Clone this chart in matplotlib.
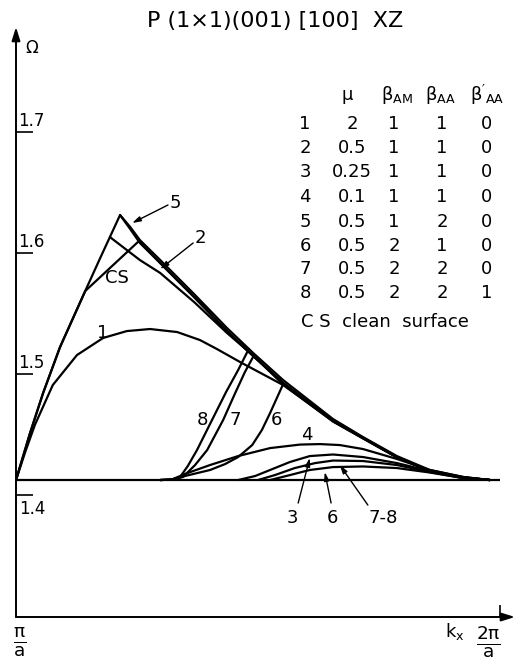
import matplotlib
matplotlib.use('Agg')
import matplotlib.pyplot as plt

plt.rcParams['font.family'] = ['DejaVu Sans']
plt.rcParams['mathtext.default'] = 'regular'

# kx in units of pi/a, Omega
base_k = [1.0, 2.0]
base_w = [1.4124, 1.4124]

# steep rising part shared by curves 5, CS, 2
rise_k = [1.000, 1.029, 1.056, 1.091, 1.143, 1.174, 1.194, 1.215]
rise_w = [1.4124, 1.4512, 1.4843, 1.5223, 1.5686, 1.5959, 1.6132, 1.6314]

# curve 5, outer line from the peak
c5_k = [1.236, 1.256, 1.298, 1.368, 1.436, 1.490, 1.552, 1.655, 1.717, 1.787, 1.855, 1.924, 1.979]
c5_w = [1.6215, 1.6107, 1.5942, 1.5661, 1.5380, 1.5174, 1.4950, 1.4628, 1.4479, 1.4322, 1.4207, 1.4149, 1.4124]

# inner line from the peak
inner_k = [1.215, 1.236, 1.256, 1.298, 1.368, 1.436, 1.490, 1.552, 1.655, 1.717, 1.787, 1.855, 1.924, 1.979]
inner_w = [1.6314, 1.6198, 1.6083, 1.5917, 1.5636, 1.5355, 1.5149, 1.4926, 1.4612, 1.4471, 1.4314, 1.4198, 1.4145, 1.4124]

# clean surface: leaves the steep line, joins the inner line
cs_k = [1.143, 1.254]
cs_w = [1.5686, 1.6099]

# curve 2
c2_k = [1.194, 1.256, 1.298, 1.368, 1.436, 1.492, 1.552, 1.655, 1.717, 1.787, 1.855, 1.924, 1.979]
c2_w = [1.6132, 1.5942, 1.5835, 1.5595, 1.5339, 1.5145, 1.4913, 1.4607, 1.4467, 1.4310, 1.4198, 1.4140, 1.4124]

# curve 1
c1_k = [1.000, 1.019, 1.039, 1.076, 1.126, 1.180, 1.229, 1.277, 1.333, 1.380, 1.415, 1.463, 1.552,
        1.655, 1.717, 1.787, 1.855, 1.924, 1.979]
c1_w = [1.4124, 1.4355, 1.4579, 1.4909, 1.5157, 1.5298, 1.5355, 1.5372, 1.5347, 1.5281, 1.5207, 1.5099, 1.4909,
        1.4612, 1.4471, 1.4314, 1.4198, 1.4145, 1.4124]

# curves 8, 7, 6 (upper branches)
c8_k = [1.298, 1.322, 1.339, 1.355, 1.374, 1.405, 1.434, 1.459, 1.481]
c8_w = [1.4124, 1.4128, 1.4149, 1.4240, 1.4372, 1.4620, 1.4851, 1.5033, 1.5207]
c7_k = [1.298, 1.322, 1.345, 1.370, 1.395, 1.428, 1.452, 1.473, 1.492]
c7_w = [1.4124, 1.4128, 1.4149, 1.4248, 1.4372, 1.4620, 1.4835, 1.5017, 1.5157]
c6u_k = [1.298, 1.322, 1.349, 1.401, 1.432, 1.459, 1.488, 1.508, 1.525, 1.539, 1.552]
c6u_w = [1.4124, 1.4128, 1.4157, 1.4207, 1.4256, 1.4314, 1.4413, 1.4537, 1.4678, 1.4802, 1.4917]

# curve 4
c4_k = [1.298, 1.322, 1.349, 1.401, 1.459, 1.525, 1.587, 1.628, 1.669, 1.717, 1.787, 1.855, 1.924, 1.979]
c4_w = [1.4124, 1.4128, 1.4174, 1.4248, 1.4322, 1.4388, 1.4417, 1.4421, 1.4413, 1.4380, 1.4298, 1.4207, 1.4149, 1.4124]

# lower arcs 3, 7-8, 6
c3_k = [1.459, 1.494, 1.525, 1.566, 1.607, 1.655, 1.717, 1.787, 1.855, 1.924, 1.979]
c3_w = [1.4124, 1.4157, 1.4207, 1.4273, 1.4322, 1.4335, 1.4314, 1.4264, 1.4198, 1.4145, 1.4124]
c78_k = [1.500, 1.535, 1.576, 1.618, 1.655, 1.717, 1.787, 1.855, 1.924, 1.979]
c78_w = [1.4124, 1.4165, 1.4223, 1.4264, 1.4285, 1.4281, 1.4248, 1.4190, 1.4140, 1.4124]
c6l_k = [1.525, 1.566, 1.607, 1.655, 1.717, 1.787, 1.855, 1.924, 1.979]
c6l_w = [1.4124, 1.4165, 1.4207, 1.4231, 1.4236, 1.4223, 1.4186, 1.4140, 1.4124]

yticks = [1.4, 1.5, 1.6, 1.7]
ytick_labels = ['1.4', '1.5', '1.6', '1.7']

table_head = ['\u03bc', r'$\beta_{AM}$', r'$\beta_{AA}$', r"$\beta'_{AA}$"]
row_num = ['1', '2', '3', '4', '5', '6', '7', '8']
row_mu = ['2', '0.5', '0.25', '0.1', '0.5', '0.5', '0.5', '0.5']
row_bam = ['1', '1', '1', '1', '1', '2', '2', '2']
row_baa = ['1', '1', '1', '1', '2', '1', '2', '2']
row_baa2 = ['0', '0', '0', '0', '0', '0', '0', '1']

fig = plt.figure(figsize=(5.15, 6.6), dpi=100)
ax = fig.add_axes([16 / 515, 43 / 660, 484 / 515, 590 / 660])
ax.set_xlim(1.0, 2.0)
ax.set_ylim(1.2992, 1.7868)
for s in ax.spines.values():
    s.set_visible(False)
ax.patch.set_alpha(0)

lw = 1.6
kw = dict(color='black', lw=lw, solid_joinstyle='round', solid_capstyle='round')
ax.plot(base_k, base_w, **kw)
ax.plot(rise_k + c5_k, rise_w + c5_w, **kw)
ax.plot(inner_k, inner_w, **kw)
ax.plot(rise_k[:5] + cs_k + inner_k[3:], rise_w[:5] + cs_w + inner_w[3:], **kw)
ax.plot(c2_k, c2_w, **kw)
ax.plot(c1_k, c1_w, **kw)
ax.plot(c8_k, c8_w, **kw)
ax.plot(c7_k, c7_w, **kw)
ax.plot(c6u_k, c6u_w, **kw)
ax.plot(c4_k, c4_w, **kw)
ax.plot(c3_k, c3_w, **kw)
ax.plot(c78_k, c78_w, **kw)
ax.plot(c6l_k, c6l_w, **kw)

# axes with arrows
ax.annotate('', xy=(0, 1.0), xytext=(0, 0), xycoords='axes fraction',
            arrowprops=dict(arrowstyle='-|>,head_length=0.8,head_width=0.25', color='black', lw=1.4,
                            shrinkA=0, shrinkB=0))
ax.annotate('', xy=(1.031, 0), xytext=(0, 0), xycoords='axes fraction',
            arrowprops=dict(arrowstyle='-|>,head_length=0.8,head_width=0.25', color='black', lw=1.4,
                            shrinkA=0, shrinkB=0))

ax.set_yticks(yticks)
ax.set_yticklabels([])
ax.set_xticks([2.0])
ax.set_xticklabels([])
ax.tick_params(axis='y', direction='in', length=12, width=1.2, pad=0)
ax.tick_params(axis='x', direction='in', length=9, width=1.2, pad=0)

for t, lab in zip(yticks, ytick_labels):
    if t == 1.4:
        ax.text(1.007, t - 0.004, lab, fontsize=12, ha='left', va='top')
    else:
        ax.text(1.005, t + 0.002, lab, fontsize=12, ha='left', va='bottom')

# curve labels
fs = 13
ax.text(1.329, 1.6413, '5', fontsize=fs, ha='center', va='center')
ax.text(1.380, 1.6124, '2', fontsize=fs, ha='center', va='center')
ax.text(1.209, 1.5793, 'CS', fontsize=fs, ha='center', va='center')
ax.text(1.180, 1.5339, '1', fontsize=fs, ha='center', va='center')
ax.text(1.386, 1.4620, '8', fontsize=fs, ha='center', va='center')
ax.text(1.452, 1.4620, '7', fontsize=fs, ha='center', va='center')
ax.text(1.539, 1.4620, '6', fontsize=fs, ha='center', va='center')
ax.text(1.601, 1.4496, '4', fontsize=fs, ha='center', va='center')
ax.text(1.572, 1.3810, '3', fontsize=fs, ha='center', va='center')
ax.text(1.653, 1.3810, '6', fontsize=fs, ha='center', va='center')
ax.text(1.758, 1.3810, '7-8', fontsize=fs, ha='center', va='center')

# pointers
ap = dict(arrowstyle='-|>,head_length=0.5,head_width=0.15', color='black', lw=1.0, shrinkA=0, shrinkB=0)
ax.annotate('', xy=(1.240, 1.6248), xytext=(1.314, 1.6397), arrowprops=ap)
ax.annotate('', xy=(1.298, 1.5868), xytext=(1.366, 1.6083), arrowprops=ap)
ax.annotate('', xy=(1.607, 1.4306), xytext=(1.583, 1.3934), arrowprops=ap)
ax.annotate('', xy=(1.638, 1.4190), xytext=(1.651, 1.3934), arrowprops=ap)
ax.annotate('', xy=(1.669, 1.4248), xytext=(1.727, 1.3917), arrowprops=ap)

# title and axis names
fig.text(275 / 515, 1 - 21 / 660, 'P (1\u00d71)(001) [100]  XZ', fontsize=16, ha='center', va='center')
fig.text(32 / 515, 1 - 48 / 660, '\u03a9', fontsize=12, ha='center', va='center')
fig.text(20 / 515, 1 - 642 / 660, r'$\frac{\pi}{a}$', fontsize=19, ha='center', va='center')
fig.text(488 / 515, 1 - 642 / 660, r'$\frac{2\pi}{a}$', fontsize=19, ha='center', va='center')
fig.text(455 / 515, 1 - 632 / 660, r'$k_x$', fontsize=13, ha='center', va='center')

# parameter table
head_x = [347, 397, 440, 487]
for hx, h in zip(head_x, table_head):
    fig.text(hx / 515, 1 - 95 / 660, h, fontsize=13, ha='center', va='center')
row_y = [124, 148, 172, 197, 222, 246, 269, 293]
for i in range(len(row_num)):
    yy = 1 - row_y[i] / 660
    fig.text(305 / 515, yy, row_num[i], fontsize=13, ha='center', va='center')
    fig.text(352 / 515, yy, row_mu[i], fontsize=13, ha='center', va='center')
    fig.text(394 / 515, yy, row_bam[i], fontsize=13, ha='center', va='center')
    fig.text(442 / 515, yy, row_baa[i], fontsize=13, ha='center', va='center')
    fig.text(487 / 515, yy, row_baa2[i], fontsize=13, ha='center', va='center')
fig.text(301 / 515, 1 - 322 / 660, 'C S  clean  surface', fontsize=13, ha='left', va='center')

fig.savefig('out.png', dpi=100)
